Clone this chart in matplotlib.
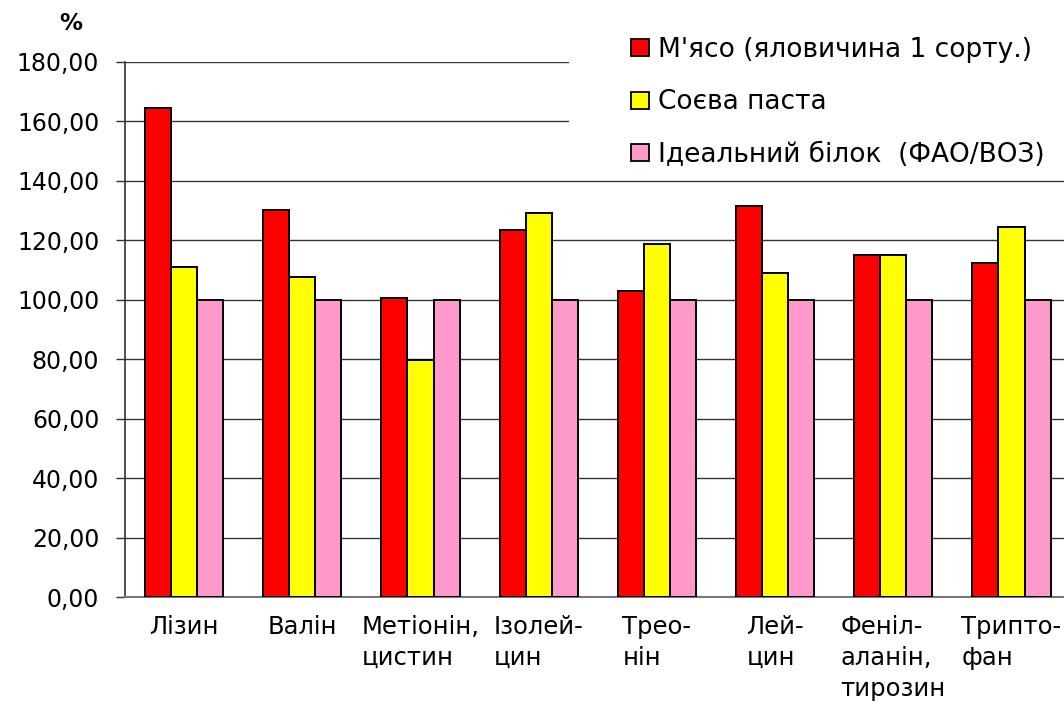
import matplotlib
matplotlib.use("Agg")
import matplotlib.pyplot as plt
from matplotlib.patches import Rectangle, Patch
from matplotlib.ticker import FuncFormatter, MultipleLocator
import numpy as np

plt.rcParams["font.family"] = ["DejaVu Sans"]

# амінокислотний скор, % до ідеального білка
categories = ["Лізин", "Валін", "Метіонін,\nцистин", "Ізолей-\nцин", "Трео-\nнін",
              "Лей-\nцин", "Феніл-\nаланін,\nтирозин", "Трипто-\nфан"]
meat = [164.4, 130.3, 100.7, 123.4, 103.1, 131.6, 115.0, 112.3]
soy = [111.1, 107.8, 79.7, 129.1, 118.9, 109.1, 115.0, 124.5]
ideal = [100, 100, 100, 100, 100, 100, 100, 100]

series_names = ["М'ясо (яловичина 1 сорту.)", "Соєва паста", "Ідеальний білок  (ФАО/ВОЗ)"]
colors = ["#FF0000", "#FFFF00", "#FF99CC"]

W, H = 1064, 702
fig = plt.figure(figsize=(W / 100, H / 100), dpi=100)
ax = fig.add_axes([125 / W, 1 - 597 / H, 945.6 / W, 535 / H])

x = np.arange(len(categories))
bw = 0.22
for i, (vals, c) in enumerate(zip([meat, soy, ideal], colors)):
    ax.bar(x + (i - 1) * bw, vals, bw, color=c, edgecolor="black", linewidth=1.4, zorder=3)

ax.set_xlim(-0.5, len(categories) - 0.5)
ax.set_ylim(0, 180)
ax.yaxis.set_major_locator(MultipleLocator(20))
ax.yaxis.set_major_formatter(FuncFormatter(lambda v, p: f"{v:.2f}".replace(".", ",")))
ax.grid(axis="y", color="#333333", linewidth=1.0, zorder=0)

for s in ["top", "right"]:
    ax.spines[s].set_visible(False)
ax.spines["left"].set_color("#333333")
ax.spines["bottom"].set_color("#777777")
ax.spines["left"].set_linewidth(1.2)
ax.spines["bottom"].set_linewidth(1.5)

ax.tick_params(axis="y", direction="out", length=6.5, width=1.0, color="#333333",
               pad=12, labelsize=17)
ax.set_xticks(x)
ax.set_xticklabels(categories, fontsize=17.5, multialignment="left", linespacing=1.36)
ax.tick_params(axis="x", length=0, pad=13)

fig.text(70.5 / W, 1 - 23.5 / H, "%", fontsize=16.5, fontweight="bold", ha="center", va="center")

# білий фон під легендою перекриває сітку
fig.add_artist(Rectangle((569 / W, 1 - 172 / H), 1, 172 / H, transform=fig.transFigure,
                         facecolor="white", edgecolor="none", zorder=1))
handles = [Patch(facecolor=c, edgecolor="black", linewidth=1.3) for c in colors]
leg = fig.legend(handles, series_names, loc="upper left",
                 bbox_to_anchor=(631 / W, 1 - 37 / H), frameon=False,
                 fontsize=19, borderpad=0, borderaxespad=0,
                 handlelength=0.68, handleheight=0.61, handletextpad=0.34,
                 labelspacing=1.0)
leg.set_zorder(5)

fig.savefig("out.png", dpi=100)
